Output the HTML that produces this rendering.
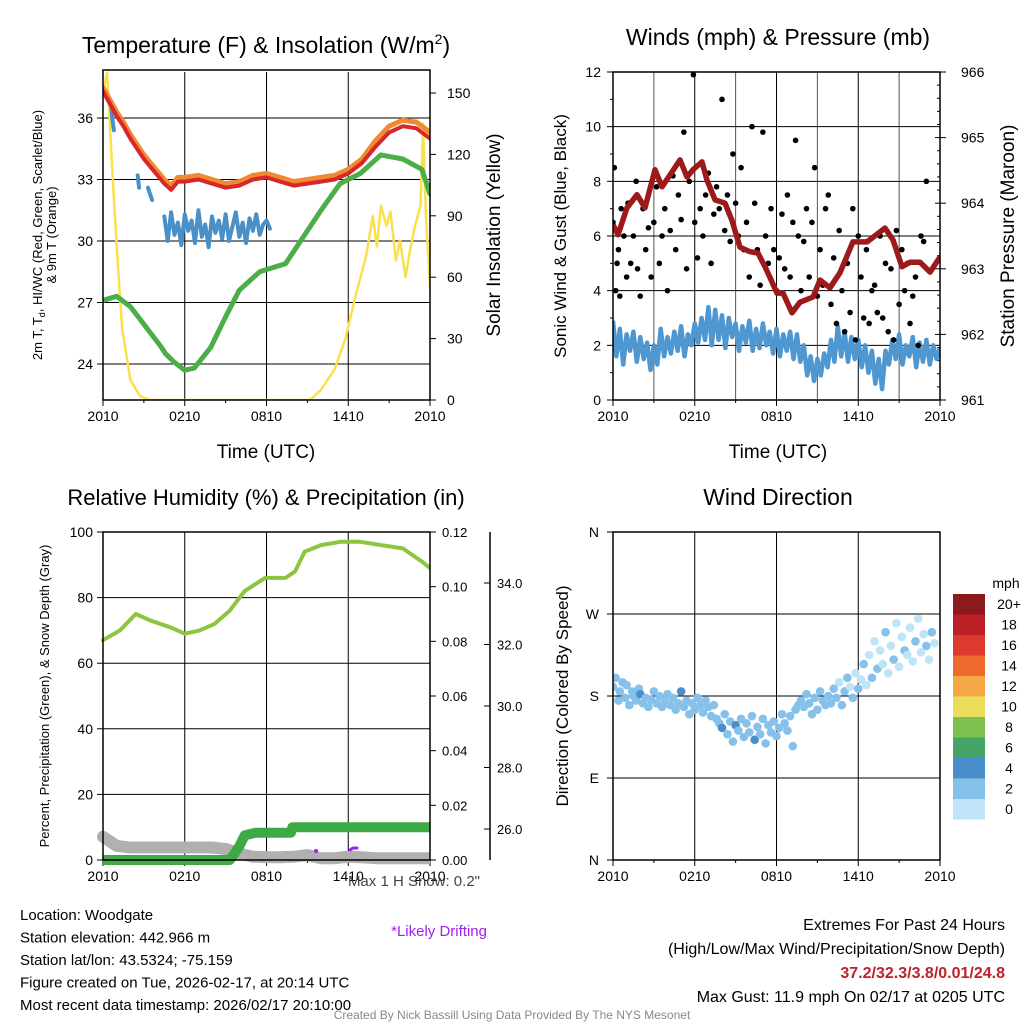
<!DOCTYPE html>
<html><head><meta charset="utf-8"><style>
body{margin:0;background:#fff;width:1024px;height:1024px;overflow:hidden;font-family:"Liberation Sans",Arial,sans-serif}
svg text{font-family:"Liberation Sans",Arial,sans-serif}
</style></head><body>
<svg id="s" width="1024" height="1024" viewBox="0 0 1024 1024" xmlns="http://www.w3.org/2000/svg">
<defs>
<clipPath id="c1"><rect x="103" y="70" width="327" height="330"/></clipPath>
<clipPath id="c2"><rect x="613" y="72" width="327" height="328"/></clipPath>
<clipPath id="c3"><rect x="90" y="532" width="340" height="340"/></clipPath>
<clipPath id="c4"><rect x="613" y="532" width="327" height="328"/></clipPath>
</defs>
</svg>
<script>
// ---------- DATA ----------
const xTickLabels=["2010","0210","0810","1410","2010"];
const tempTicks=[24,27,30,33,36];
const solarTicks=[0,30,60,90,120,150];
const windTicks=[0,2,4,6,8,10,12];
const presTicks=[961,962,963,964,965,966];
const rhTicks=[0,20,40,60,80,100];
const precipTicks=[0.00,0.02,0.04,0.06,0.08,0.10,0.12];
const snowTicks=[26.0,28.0,30.0,32.0,34.0];
const dirTicks=["N","E","S","W","N"];
const speedBins=["0","2","4","6","8","10","12","14","16","18","20+"];
const speedColors=["#bfe4f7","#85c1ea","#4a8fcb","#45a467","#7dc04f","#e8de5a","#f6a844","#ef6a2f","#dc3a2c","#bd1f27","#8c1a1c"];

const tHours=[0,0.5,1,1.5,2,2.5,3,3.5,4,4.5,5,5.5,6,7,8,9,10,11,12,13,14,15,16,17,18,19,20,21,22,23,24];
const temp2m=[37.3,36.7,36.1,35.6,35.0,34.5,34.0,33.6,33.2,32.8,32.5,32.9,32.9,33.0,32.8,32.6,32.7,33.0,33.1,32.9,32.7,32.8,32.9,33.0,33.3,33.8,34.6,35.3,35.6,35.5,35.0];
const temp9m=[37.5,36.9,36.3,35.8,35.2,34.7,34.2,33.8,33.4,33.0,32.7,33.1,33.1,33.2,33.0,32.8,32.9,33.2,33.3,33.1,32.9,33.0,33.1,33.2,33.5,34.0,34.9,35.6,35.9,35.8,35.3];
const gHours=[0,1,2,2.7,3.5,4.2,4.6,5.2,6,6.7,7.9,9,10,11.5,13.4,14.5,16,17.4,18.9,20.4,22,23.4,24];
const hiwc=[27.1,27.3,26.8,26.2,25.5,24.9,24.5,24.1,23.7,23.8,24.8,26.3,27.6,28.5,28.9,30.0,31.5,32.8,33.3,34.2,34.0,33.5,32.3];
const tdHours=[0.6,0.7,0.8,null,2.55,2.65,null,3.3,3.45,3.6,null,4.5,4.75,5,5.25,5.5,5.75,6,6.25,6.5,6.75,7,7.25,7.5,7.75,8,8.25,8.5,8.75,9,9.25,9.5,9.75,10,10.25,10.5,10.75,11,11.25,11.5,11.75,12,12.25];
const tdVals=[36.6,35.9,35.4,null,33.2,32.6,null,32.6,32.3,32.0,null,31.2,30.0,31.4,30.3,30.9,29.8,31.3,30.5,31.0,29.9,31.5,30.2,30.8,29.7,31.2,30.4,31.0,30.1,31.3,30.0,30.7,31.4,30.2,30.9,29.9,31.1,30.5,31.3,30.3,30.8,31.0,30.6];
const solHours=[0,0.3,0.7,1.1,1.4,2,2.7,3.4,15.2,16,17,17.8,18.5,19.3,19.8,20.1,20.4,20.8,21.1,21.5,21.8,22.2,22.5,22.9,23.3,23.5,23.7,24];
const solar=[150,160,110,65,35,10,2,0,0,5,15,30,50,70,90,75,95,85,92,68,78,60,72,85,95,135,90,55];

const windSpd=[2.9,1.6,2.6,1.3,2.4,1.8,2.5,1.4,2.3,
1.5,2.1,1.1,2.0,1.3,2.6,1.6,2.3,
1.7,2.5,1.8,2.7,1.6,2.4,2.0,2.8,
2.1,3.0,2.2,3.4,2.0,3.3,2.2,3.1,
1.9,3.0,2.3,2.8,1.8,2.7,2.1,2.9,
1.8,2.6,1.9,2.8,2.0,2.5,1.7,2.6,
1.6,2.4,1.8,2.5,1.5,2.4,1.4,2.0,
0.9,1.6,0.7,1.5,0.9,1.7,1.2,2.2,
1.4,2.7,1.6,2.5,1.4,2.3,1.5,2.2,
1.2,2.0,1.0,1.8,0.6,1.5,0.4,1.8,
1.3,2.2,1.5,2.4,1.3,2.0,1.6,2.3,
1.2,2.1,1.4,2.2,1.3,2.0,1.5,1.9];
const pHours=[0,0.37,1.03,1.76,2.35,3.08,3.6,4.18,4.92,5.43,5.87,6.53,6.9,7.49,8.22,8.73,9.32,10.06,10.64,11.16,12.04,12.48,13.14,13.72,14.68,15.19,15.93,16.66,17.61,18.64,19.96,20.55,21.21,21.8,22.53,23.27,24];
const pressure=[963.67,963.52,963.93,964.13,963.93,964.51,964.25,964.43,964.66,964.40,964.51,964.63,964.35,964.05,964.00,963.74,963.33,963.26,963.24,963.03,962.63,962.63,962.33,962.49,962.57,962.83,962.71,962.94,963.41,963.41,963.62,963.44,963.03,963.10,963.10,962.95,963.18];
const gustHours=[0,0.1,0.2,0.3,0.4,0.5,0.6,0.8,1,1.1,1.3,1.5,1.7,1.8,2,2.2,2.4,2.6,2.8,3,3.2,3.4,3.6,3.8,4,4.2,4.4,4.6,4.8,5,5.2,5.4,5.6,5.9,6,6.2,6.4,6.6,6.8,7,7.2,7.4,7.6,7.8,8,8.2,8.4,8.6,8.8,9,9.2,9.4,9.6,9.8,10,10.2,10.4,10.6,10.8,11,11.2,11.4,11.6,11.8,12,12.2,12.4,12.6,12.8,13,13.2,13.4,13.6,13.8,14,14.2,14.4,14.6,14.8,15,15.2,15.4,15.6,15.8,16,16.2,16.4,16.6,16.8,17,17.2,17.4,17.6,17.8,18,18.2,18.4,18.6,18.8,19,19.2,19.4,19.6,19.8,20,20.2,20.4,20.6,20.8,21,21.2,21.4,21.6,21.8,22,22.2,22.4,22.6,22.8,23,23.2,23.4,23.6,23.8,24];
const gustSpd=[6.5,8.5,4.0,5.0,5.5,3.8,7.0,6.0,4.5,7.2,5.0,6.0,8.0,4.8,3.8,7.0,5.5,6.3,4.5,6.5,7.8,5.0,6.0,7.0,4.0,6.2,8.2,5.5,7.5,6.6,9.8,4.8,8.0,11.9,6.5,5.2,7.0,6.0,7.5,8.3,5.0,6.8,7.8,7.0,11.0,6.2,7.5,5.8,9.0,7.2,6.0,8.5,5.5,6.5,4.5,10.0,7.2,5.5,4.2,9.8,6.0,5.0,7.0,5.5,4.0,5.2,6.8,4.8,7.5,4.5,6.5,9.5,6.0,4.0,5.8,7.0,4.5,6.5,8.5,3.8,5.5,4.2,7.0,7.5,3.5,5.2,2.8,6.2,4.0,2.5,5.0,3.2,7.0,2.2,6.0,4.5,3.0,5.5,2.8,4.0,4.2,3.2,6.0,3.0,5.0,2.5,4.8,2.2,6.2,3.5,5.5,4.0,5.0,2.8,3.8,4.5,2.0,6.0,5.8,8.0];

const rhHours=[0,1.25,2.4,3.5,4.9,6,7.1,8.2,9.3,10.4,11.9,13.4,14.1,14.8,16,17.4,18.9,20.4,22,23.4,24];
const rh=[67,70,75,73,71,69,70,72,76,82,86,86,88,94,96,97,97,96,95,91,89];
const prHours=[0,9.3,9.6,10,10.4,11.2,13.8,13.9,24];
const precip=[0,0,0.002,0.005,0.009,0.010,0.010,0.012,0.012];
const snHours=[0,1,2,3,4,5,6,7,8,9,10,11,12,13,14,15,16,17,18,19,20,21,22,23,24];
const snow=[25.75,25.45,25.4,25.4,25.4,25.4,25.4,25.4,25.4,25.35,25.2,25.1,25.08,25.08,25.1,25.15,25.05,25.05,25.1,25.08,25.05,25.05,25.05,25.05,25.05];

const dHours=[0,0.2,0.4,0.5,0.7,0.9,1.0,1.2,1.4,1.5,1.7,1.9,2.0,2.2,2.4,2.6,2.8,3.0,3.2,3.4,3.6,3.8,4.0,4.2,4.4,4.6,4.8,5.0,5.2,5.4,5.6,5.8,6.0,6.2,6.4,6.6,6.8,7.0,7.2,7.4,7.6,7.8,8.0,8.2,8.4,8.6,8.8,9.0,9.2,9.4,9.6,9.8,10.0,10.2,10.4,10.6,10.8,11.0,11.2,11.4,11.6,11.8,12.0,12.2,12.4,12.6,12.8,13.0,13.2,13.4,13.6,13.8,14.0,14.2,14.4,14.6,14.8,15.0,15.2,15.4,15.6,15.8,16.0,16.2,16.4,16.6,16.8,17.0,17.2,17.4,17.6,17.8,18.0,18.2,18.4,18.6,18.8,19.0,19.2,19.4,19.6,19.8,20.0,20.2,20.4,20.6,20.8,21.0,21.2,21.4,21.6,21.8,22.0,22.2,22.4,22.6,22.8,23.0,23.2,23.4,23.6,23.8];
const dirDeg=[190,200,175,185,195,178,192,170,185,180,175,188,182,172,178,168,176,185,172,180,168,175,182,170,178,165,172,185,168,175,160,172,165,178,170,162,175,168,158,170,155,150,145,160,138,152,130,148,142,155,135,150,140,158,132,146,138,155,128,148,140,152,136,145,160,150,142,158,125,165,170,175,168,182,172,160,178,165,185,175,170,180,172,188,178,195,170,185,200,190,178,205,188,198,215,192,225,200,240,210,230,215,250,205,235,220,260,212,245,230,225,255,218,240,265,228,248,235,220,250,238];
const dirSpd=[3,3,2.5,3,3.5,3,2.5,3,3,2.5,3,3,4,3,2.5,3,3,2.5,3,3,3,3.5,3,2.5,3,3,3,4,3,3,2.5,3,3,3,2.5,3,3,3.5,3,2.5,3,3,4,3,3,2.5,3,4,3,3,2.5,3,3,3,4,2.5,3,3,3,2.5,3,3,3,2.5,3,3,3,2.5,3,3,2.5,3,3,2,3,2.5,3,2,3,2.5,2,3,2.5,2,3,1.5,2.5,2,3,1.5,2,0.5,2.5,1.5,2,0.5,1.5,2.5,1,2,0.5,1.5,2,1,0.5,2,1.5,0.5,1,2,1.5,0.5,1,2.5,1.5,0.5,1,2,1.5,2.5,1];

// ---------- DRAW ----------
const S=document.getElementById('s');
const NS='http://www.w3.org/2000/svg';
function mk(tag,attrs,parent,txt){const e=document.createElementNS(NS,tag);for(const k in attrs)e.setAttribute(k,attrs[k]);if(txt!==undefined)e.textContent=txt;(parent||S).appendChild(e);return e;}
function lineScale(d0,d1,r0,r1){return v=>r0+(v-d0)/(d1-d0)*(r1-r0);}
function pathD(xs,ys,fx,fy){let d='',pen=false;for(let i=0;i<xs.length;i++){if(xs[i]===null||ys[i]===null){pen=false;continue;}d+=(pen?'L':'M')+fx(xs[i]).toFixed(1)+' '+fy(ys[i]).toFixed(1);pen=true;}return d;}
const wHours=windSpd.map((v,i)=>i*0.25);

function frame(name){
  const g=mk('g',{});
  
  
  return g;
}
function xAxis(g,x0,x1,y1,grid3){
  const fx=lineScale(0,24,x0,x1);
  if(grid3){for(let h=3;h<24;h+=6){mk('line',{x1:fx(h),x2:fx(h),y1:y1-328,y2:y1,stroke:'#555','stroke-width':1},g);}}
  xTickLabels.forEach((t,i)=>{const x=fx(i*6);
    const l=mk('line',{x1:x,x2:x,y1:y1-328,y2:y1,stroke:'#000','stroke-width':1},g);
    
    mk('line',{x1:x,x2:x,y1:y1,y2:y1+6,stroke:'#000'},g);
    const tx=mk('text',{x:x,y:y1+21,'font-size':14,'text-anchor':'middle'},g,t);
    
  });
  for(let h=3;h<24;h+=6){mk('line',{x1:fx(h),x2:fx(h),y1:y1,y2:y1+3,stroke:'#000'},g);}
  return fx;
}

// ===== Panel 1 =====
(function(){
  const g=frame('temperature-panel');
  const x0=103,x1=430,y0=70,y1=400;
  const fx=xAxis(g,x0,x1,y1,false);
  const fy=lineScale(24,36,364,118);
  const fs=lineScale(0,150,400,93);
  tempTicks.forEach(t=>{const y=fy(t);mk('line',{x1:x0,x2:x1,y1:y,y2:y,stroke:'#000'},g);mk('line',{x1:x0-6,x2:x0,y1:y,y2:y,stroke:'#000'},g);
    const tx=mk('text',{x:x0-10,y:y+5,'font-size':14,'text-anchor':'end'},g,t);});
  solarTicks.forEach(t=>{const y=fs(t);mk('line',{x1:x1,x2:x1+6,y1:y,y2:y,stroke:'#000'},g);
    const tx=mk('text',{x:x1+17,y:y+5,'font-size':14},g,t);});
  const cg=mk('g',{'clip-path':'url(#c1)','stroke-linejoin':'round','stroke-linecap':'round',fill:'none'},g);
  const s1=mk('path',{d:pathD(solHours,solar,fx,fs),stroke:'#fbe04e','stroke-width':2.5},cg);
  const s2=mk('path',{d:pathD(gHours,hiwc,fx,fy),stroke:'#4cae48','stroke-width':5},cg);
  const s3=mk('path',{d:pathD(tdHours,tdVals,fx,fy),stroke:'#4a90c8','stroke-width':4},cg);
  const s4=mk('path',{d:pathD(tHours,temp9m,fx,fy),stroke:'#f08a32','stroke-width':5},cg);
  const s5=mk('path',{d:pathD(tHours,temp2m,fx,fy),stroke:'#d9262a','stroke-width':4},cg);
  mk('rect',{x:x0,y:y0,width:x1-x0,height:y1-y0,fill:'none',stroke:'#000','stroke-width':1.5},g);
  const t=mk('text',{x:266,y:53,'font-size':23,'text-anchor':'middle'},g);
  t.innerHTML='Temperature (F) &amp; Insolation (W/m<tspan dy="-9" font-size="14">2</tspan><tspan dy="9">)</tspan>';
  const xl=mk('text',{x:266,y:458,'font-size':19,'text-anchor':'middle'},g,'Time (UTC)');
  const yl=mk('text',{transform:'translate(42,235) rotate(-90)','font-size':13,'text-anchor':'middle'},g);
  yl.innerHTML='2m T, T<tspan dy="3" font-size="9">d</tspan><tspan dy="-3">, HI/WC (Red, Green, Scarlet/Blue)</tspan>';
  mk('text',{transform:'translate(56,235) rotate(-90)','font-size':13,'text-anchor':'middle'},g,'& 9m T (Orange)');
  const yr=mk('text',{transform:'translate(500,235) rotate(-90)','font-size':19,'text-anchor':'middle'},g,'Solar Insolation (Yellow)');
})();

// ===== Panel 2 =====
(function(){
  const g=frame('winds-panel');
  const x0=613,x1=940,y0=72,y1=400;
  const fx=xAxis(g,x0,x1,y1,true);
  const fy=lineScale(0,12,400,72);
  const fp=lineScale(961,966,400,72);
  windTicks.forEach(t=>{const y=fy(t);mk('line',{x1:x0,x2:x1,y1:y,y2:y,stroke:'#000'},g);mk('line',{x1:x0-6,x2:x0,y1:y,y2:y,stroke:'#000'},g);
    if(t<12)mk('line',{x1:x0-3,x2:x0,y1:fy(t+1),y2:fy(t+1),stroke:'#000'},g);
    const tx=mk('text',{x:x0-12,y:y+5,'font-size':14,'text-anchor':'end'},g,t);});
  presTicks.forEach(t=>{const y=fp(t);mk('line',{x1:x1-5,x2:x1+6,y1:y,y2:y,stroke:'#000'},g);
    for(let k=1;k<5&&t<966;k++){const yy=fp(t+k*0.2);mk('line',{x1:x1-3,x2:x1,y1:yy,y2:yy,stroke:'#000'},g);}
    const tx=mk('text',{x:x1+21,y:y+5,'font-size':14},g,t);});
  const cg=mk('g',{'clip-path':'url(#c2)','stroke-linejoin':'round',fill:'none'},g);
  const w=mk('path',{d:pathD(wHours,windSpd,fx,fy),stroke:'#4f97d0','stroke-width':4.5},cg);
  gustHours.forEach((h,i)=>{const c=mk('circle',{cx:fx(h),cy:fy(gustSpd[i]),r:2.8,fill:'#000'},cg);
    
    });
  const p=mk('path',{d:pathD(pHours,pressure,fx,fp),stroke:'#9e1a1a','stroke-width':5.5},cg);
  mk('rect',{x:x0,y:y0,width:x1-x0,height:y1-y0,fill:'none',stroke:'#000','stroke-width':1.5},g);
  const t=mk('text',{x:778,y:45,'font-size':23,'text-anchor':'middle'},g,'Winds (mph) & Pressure (mb)');
  const xl=mk('text',{x:778,y:458,'font-size':19,'text-anchor':'middle'},g,'Time (UTC)');
  const yl=mk('text',{transform:'translate(566,236) rotate(-90)','font-size':17,'text-anchor':'middle'},g,'Sonic Wind & Gust (Blue, Black)');
  const yr=mk('text',{transform:'translate(1014,236) rotate(-90)','font-size':19,'text-anchor':'middle'},g,'Station Pressure (Maroon)');
})();

// ===== Panel 3 =====
(function(){
  const g=frame('humidity-panel');
  const x0=103,x1=430,y0=532,y1=860;
  const fx=xAxis(g,x0,x1,y1,false);
  const fy=lineScale(0,100,860,532);
  const fpr=lineScale(0,0.12,860,532);
  const fsn=lineScale(26,34,829,583);
  rhTicks.forEach(t=>{const y=fy(t);mk('line',{x1:x0,x2:x1,y1:y,y2:y,stroke:'#000'},g);mk('line',{x1:x0-6,x2:x0,y1:y,y2:y,stroke:'#000'},g);
    const tx=mk('text',{x:x0-10,y:y+5,'font-size':14,'text-anchor':'end'},g,t);});
  precipTicks.forEach(t=>{const y=fpr(t);mk('line',{x1:x1,x2:x1+6,y1:y,y2:y,stroke:'#000'},g);
    const tx=mk('text',{x:x1+12,y:y+5,'font-size':13},g,t.toFixed(2));});
  mk('line',{x1:490,x2:490,y1:532,y2:860,stroke:'#000','stroke-width':1.5},g);
  snowTicks.forEach(t=>{const y=fsn(t);mk('line',{x1:484,x2:490,y1:y,y2:y,stroke:'#000'},g);
    const tx=mk('text',{x:497,y:y+5,'font-size':13},g,t.toFixed(1));});
  const cg=mk('g',{'clip-path':'url(#c3)','stroke-linejoin':'round','stroke-linecap':'round',fill:'none'},g);
  const sn=mk('path',{d:pathD(snHours,snow,fx,fsn),stroke:'#b0b0b0','stroke-width':12},cg);
  const pr=mk('path',{d:pathD(prHours,precip,fx,fpr),stroke:'#3daa45','stroke-width':10,'stroke-linecap':'butt'},cg);
  const r=mk('path',{d:pathD(rhHours,rh,fx,fy),stroke:'#8cc63f','stroke-width':4},cg);
  const d1=mk('circle',{cx:316,cy:851,r:2,fill:'#a020f0'},cg);
  const d2=mk('path',{d:'M350 850 L353 848 L357 848',stroke:'#a020f0','stroke-width':3},cg);
  mk('rect',{x:x0,y:y0,width:x1-x0,height:y1-y0,fill:'none',stroke:'#000','stroke-width':1.5},g);
  const t=mk('text',{x:266,y:505,'font-size':22,'text-anchor':'middle'},g,'Relative Humidity (%) & Precipitation (in)');
  const yl=mk('text',{transform:'translate(49,696) rotate(-90)','font-size':13,'text-anchor':'middle'},g,'Percent, Precipitation (Green), & Snow Depth (Gray)');
})();

// ===== Panel 4 =====
(function(){
  const g=frame('wind-direction-panel');
  const x0=613,x1=940,y0=532,y1=860;
  const fx=xAxis(g,x0,x1,y1,false);
  const fd=lineScale(0,360,860,532);
  dirTicks.forEach((t,i)=>{const y=fd(i*90);mk('line',{x1:x0,x2:x1,y1:y,y2:y,stroke:'#000'},g);mk('line',{x1:x0-6,x2:x0,y1:y,y2:y,stroke:'#000'},g);
    const tx=mk('text',{x:x0-14,y:y+5,'font-size':14,'text-anchor':'end'},g,t);});
  const cg=mk('g',{'clip-path':'url(#c4)'},g);
  function col(s){const i=Math.min(10,Math.max(0,Math.floor(s/2)));return speedColors[i];}
  dHours.forEach((h,i)=>{const c=mk('circle',{cx:fx(h),cy:fd(dirDeg[i]),r:4.3,fill:col(dirSpd[i])},cg);
    
    });
  mk('rect',{x:x0,y:y0,width:x1-x0,height:y1-y0,fill:'none',stroke:'#000','stroke-width':1.5},g);
  const t=mk('text',{x:778,y:505,'font-size':23,'text-anchor':'middle'},g,'Wind Direction');
  const yl=mk('text',{transform:'translate(568,696) rotate(-90)','font-size':17,'text-anchor':'middle'},g,'Direction (Colored By Speed)');
  const lg=mk('g',{},g);
  mk('text',{x:1006,y:588,'font-size':14,'text-anchor':'middle'},lg,'mph');
  speedBins.forEach((b,i)=>{const y=799-i*20.5;
    const r=mk('rect',{x:953,y:y,width:32,height:20.5,fill:speedColors[i]},lg);
    mk('text',{x:1009,y:y+15,'font-size':14,'text-anchor':'middle'},lg,b);});
})();

// ===== Text =====
const info=["Location: Woodgate","Station elevation: 442.966 m","Station lat/lon: 43.5324; -75.159","Figure created on Tue, 2026-02-17, at 20:14 UTC","Most recent data timestamp: 2026/02/17 20:10:00"];
info.forEach((s,i)=>{const t=mk('text',{x:20,y:920+i*22.5,'font-size':15},S,s);});
const ms=mk('text',{x:480,y:886,'font-size':15,'text-anchor':'end',fill:'#444'},S,'Max 1 H Snow: 0.2"');
const ld=mk('text',{x:487,y:936,'font-size':15,'text-anchor':'end',fill:'#a020f0'},S,'*Likely Drifting');
const ex=[["Extremes For Past 24 Hours",930,'#000','normal'],["(High/Low/Max Wind/Precipitation/Snow Depth)",954,'#000','normal'],["37.2/32.3/3.8/0.01/24.8",978,'#c0202a','bold'],["Max Gust: 11.9 mph On 02/17 at 0205 UTC",1002,'#000','normal']];
ex.forEach(e=>{const t=mk('text',{x:1005,y:e[1],'font-size':16,'text-anchor':'end',fill:e[2],'font-weight':e[3]},S,e[0]);});
const ft=mk('text',{x:512,y:1019,'font-size':12,'text-anchor':'middle',fill:'#888'},S,'Created By Nick Bassill Using Data Provided By The NYS Mesonet');
</script>
</body></html>
